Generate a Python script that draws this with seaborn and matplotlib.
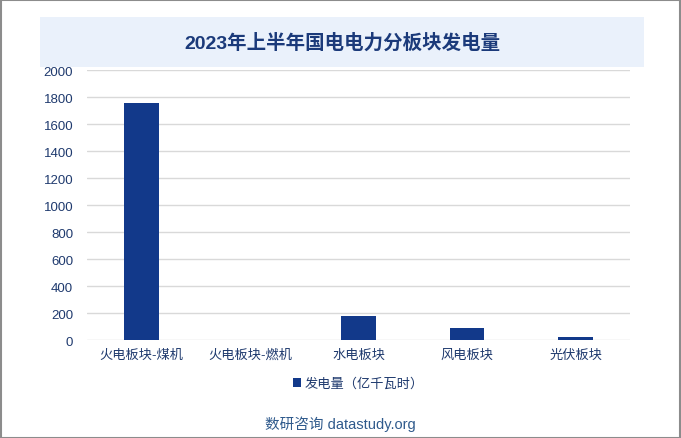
import pandas as pd
import matplotlib.pyplot as plt
import seaborn as sns
from matplotlib.patches import Rectangle

categories = ['火电板块-煤机', '火电板块-燃机', '水电板块', '风电板块', '光伏板块']
generation = [1756, 0, 182, 91, 20]
series_name = '发电量（亿千瓦时）'
title = '2023年上半年国电电力分板块发电量'
y_ticks = [0, 200, 400, 600, 800, 1000, 1200, 1400, 1600, 1800, 2000]

sns.set_theme(style='white')
plt.rcParams['font.family'] = ['Liberation Sans', 'Noto Sans CJK SC', 'DejaVu Sans']

bar_color = '#12398A'
text_color = '#1F3A6E'

df = pd.DataFrame({'板块': categories, series_name: generation})

fig = plt.figure(figsize=(6.81, 4.39), dpi=100)
ax = fig.add_axes([0.128, 0.223, 0.797, 0.615])

sns.barplot(data=df, x='板块', y=series_name, color=bar_color, width=0.32,
            saturation=1, ax=ax, label=series_name, zorder=2, linewidth=0)

ax.set_ylim(0, 2000)
ax.set_yticks(y_ticks)
ax.set_xlim(-0.5, len(categories) - 0.5)
ax.grid(axis='y', color='#D9D9D9', linewidth=1, zorder=1)
for s in ax.spines.values():
    s.set_visible(False)
ax.set_xlabel('')
ax.set_ylabel('')
ax.tick_params(axis='both', length=0, labelsize=9.5, labelcolor=text_color)
ax.tick_params(axis='y', pad=10)
ax.tick_params(axis='x', pad=6)

leg = ax.legend(loc='upper center', bbox_to_anchor=(0.5, -0.095), frameon=False,
                fontsize=9.5, handlelength=0.6, handleheight=0.6, handletextpad=0.3)
for t in leg.get_texts():
    t.set_color(text_color)

# outer border
fig.patches.append(Rectangle((0.001, 0.001), 0.997, 0.997, transform=fig.transFigure,
                             fill=False, edgecolor='#8C8C8C', linewidth=1.5))
# title band
fig.patches.append(Rectangle((40 / 681, 1 - 68 / 439), 604 / 681, 50 / 439,
                             transform=fig.transFigure, facecolor='#EAF1FB',
                             edgecolor='none', zorder=0))
fig.text(342 / 681, 1 - 43 / 439, title, ha='center', va='center', fontsize=14,
         fontweight='bold', color='#1B3A7A')
fig.text(340 / 681, 1 - 424 / 439, '数研咨询 datastudy.org', ha='center', va='center',
         fontsize=10.5, color='#2F5A8C')

fig.savefig('out.png', dpi=100)
